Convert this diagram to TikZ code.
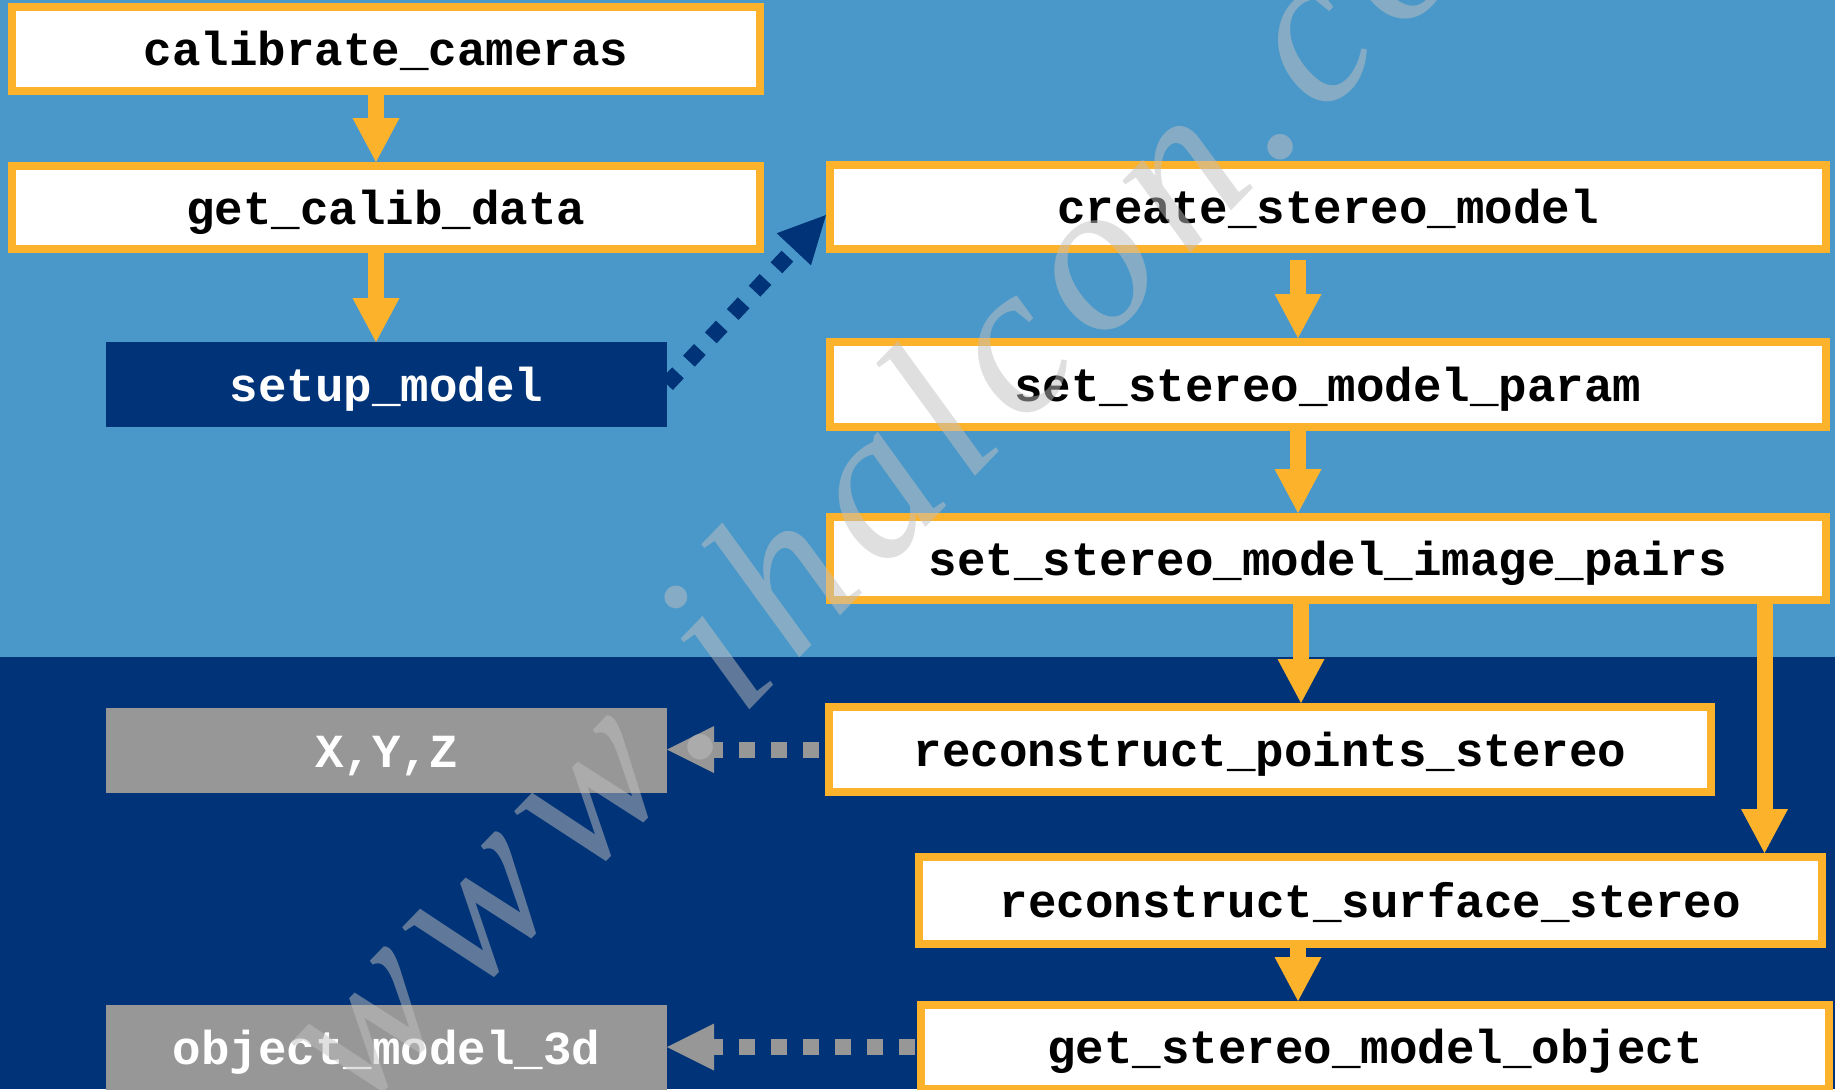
\documentclass[tikz,border=0pt]{standalone}
\usepackage{fontspec}
\setmonofont{Liberation Mono}
\newfontfamily\markfont{Liberation Serif}
\usetikzlibrary{arrows.meta}

\definecolor{skyband}{HTML}{4A98C9}
\definecolor{deepnavy}{HTML}{003377}
\definecolor{amber}{HTML}{FDB22B}
\definecolor{slate}{HTML}{979797}
\definecolor{markgray}{HTML}{C0C0C0}

\newcommand\boxlabelfont{\fontsize{23.75pt}{28pt}\selectfont\ttfamily\bfseries}
% tracked-out lettering for the site mark
\newcommand\mk{\kern8.5pt }

\begin{document}
\begin{tikzpicture}[x=0.5pt, y=-0.5pt,
  labelbase/.style={inner sep=0pt, font=\boxlabelfont, text height=21pt, text depth=4.5pt},
  procbox/.style={labelbase, draw=amber, line width=4pt, fill=white, text=black},
  modelbox/.style={labelbase, fill=deepnavy, draw=none, outer sep=0pt, text=white,
    minimum width=280.5pt, minimum height=42.5pt},
  databox/.style={labelbase, fill=slate, draw=none, outer sep=0pt, text=white,
    minimum width=280.5pt, minimum height=42.5pt},
  flow/.style={draw=amber, line width=8pt,
    -{Triangle[width=23.5pt, length=22pt, line width=0pt]}},
  hook/.style={draw=deepnavy, line width=8pt, dash pattern=on 8pt off 8pt,
    -{Triangle[width=23.5pt, length=23.5pt, line width=0pt]}},
  feed/.style={draw=slate, line width=8pt, dash pattern=on 8pt off 8pt,
    -{Triangle[width=23.5pt, length=23.5pt, line width=0pt]}}
]
\useasboundingbox (0,0) rectangle (1835,1089);

% two background bands
\fill[skyband] (0,0) rectangle (1835,657);
\fill[deepnavy] (0,657) rectangle (1835,1089);

% left column
\node[procbox, minimum width=374pt, minimum height=42pt] (cal) at (386,49) {calibrate\_cameras};
\node[procbox, minimum width=374pt, minimum height=41.5pt] (gc) at (386,207.5) {get\_calib\_data};
\node[modelbox] (setup) at (386.5,384.5) {setup\_model};
\node[databox] (xyz) at (386.5,750.5) {X,Y,Z};
\node[databox] (om3d) at (386.5,1047.5) {object\_model\_3d};

% right column
\node[procbox, minimum width=498pt, minimum height=42pt] (create) at (1328,207) {create\_stereo\_model};
\node[procbox, minimum width=498pt, minimum height=42.5pt] (param) at (1328,384.5) {set\_stereo\_model\_param};
\node[procbox, minimum width=498pt, minimum height=41.5pt] (pairs) at (1328,558.5) {set\_stereo\_model\_image\_pairs};
\node[procbox, minimum width=441pt, minimum height=42.5pt] (points) at (1270,749.5) {reconstruct\_points\_stereo};
\node[procbox, minimum width=451.5pt, minimum height=43.5pt] (surface) at (1370.5,900.5) {reconstruct\_surface\_stereo};
\node[procbox, minimum width=454pt, minimum height=42pt] (object) at (1375,1047) {get\_stereo\_model\_object};

% arrow columns
\coordinate (colL) at (376,0);
\coordinate (colM) at (1298,0);
\coordinate (colP) at (1301,0);
\coordinate (colR) at (1764.5,0);
\coordinate (createfoot) at ([yshift=-3.5pt]create.south);
\coordinate (createdock) at ([yshift=-4pt]create.west);

% main flow
\draw[flow] (cal.south -| colL) -- (gc.north -| colL);
\draw[flow] (gc.south -| colL) -- (setup.north -| colL);
\draw[flow] (createfoot -| colM) -- (param.north -| colM);
\draw[flow] (param.south -| colM) -- (pairs.north -| colM);
\draw[flow] (pairs.south -| colP) -- (points.north -| colP);
\draw[flow] (pairs.south -| colR) -- (surface.north -| colR);
\draw[flow] (surface.south -| colM) -- (object.north -| colM);

% dotted links
\draw[hook] (setup.east) -- (createdock);
\draw[feed, dash phase=13pt] (points.west) -- (points.west -| xyz.east);
\draw[feed, dash phase=15pt] (object.west) -- (object.west -| om3d.east);

% site mark across the sheet
\begin{scope}
  \clip (0,0) rectangle (1835,1089);
  \node[anchor=base west, rotate=46, inner sep=0pt, text=markgray, text opacity=0.5,
    font=\markfont\itshape\fontsize{107.5pt}{107.5pt}\selectfont] (mark) at (358,1116)
    {w\mk w\mk w\mk .\mk i\mk h\mk a\mk l\mk c\mk o\mk n\mk .\mk c\mk o\mk m};
\end{scope}
\end{tikzpicture}
\end{document}
